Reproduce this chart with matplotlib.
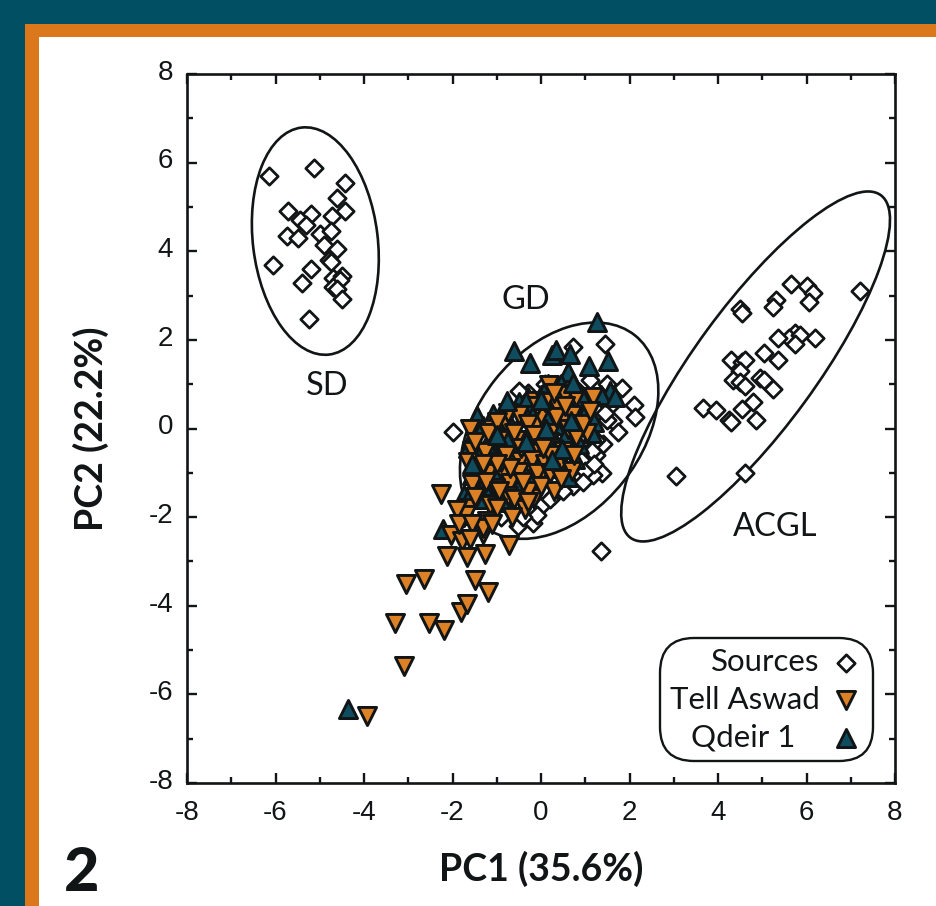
import matplotlib
matplotlib.use("Agg")
import matplotlib.pyplot as plt
from matplotlib.patches import Ellipse, Rectangle
from matplotlib.ticker import MultipleLocator
from matplotlib.transforms import ScaledTranslation

plt.rcParams['font.family'] = ['Liberation Sans', 'DejaVu Sans']
plt.rcParams['axes.unicode_minus'] = False

# values, the middle of the GD cluster is a rough estimate
sd_x = [-6.15, -5.13, -4.42, -5.72, -4.62, -4.42, -4.72, -5.2, -5.45, -5.3, -5.75, -5.5, -5.0, -4.75,
        -4.9, -4.6, -4.8, -6.05, -5.2, -4.75, -4.7, -4.5, -4.55, -5.4, -4.7, -4.6, -4.5, -5.25]
sd_y = [5.7, 5.87, 5.53, 4.9, 5.2, 4.9, 4.8, 4.85, 4.7, 4.6, 4.35, 4.3, 4.4, 4.45,
        4.15, 4.05, 3.8, 3.7, 3.6, 3.75, 3.4, 3.45, 3.35, 3.28, 3.2, 3.15, 2.93, 2.47]

acgl_x = [7.2, 5.65, 6.0, 6.15, 6.05, 5.3, 5.25, 4.5, 4.55, 5.75, 5.6, 5.85, 5.75, 5.35, 6.2, 5.05, 5.35, 4.3,
          4.55, 4.6, 4.5, 4.35, 4.5, 4.6, 4.95, 5.05, 5.25, 3.65, 3.95, 4.8, 4.55, 4.25, 4.3, 4.85, 3.05, 4.6]
acgl_y = [3.1, 3.25, 3.22, 3.05, 2.85, 2.9, 2.75, 2.7, 2.6, 2.15, 2.05, 2.1, 1.9, 2.05, 2.05, 1.7, 1.55, 1.55,
          1.5, 1.55, 1.3, 1.1, 1.05, 0.95, 1.15, 1.1, 0.9, 0.47, 0.42, 0.6, 0.45, 0.2, 0.15, 0.2, -1.07, -1.0]

gd_x = [1.45, 0.72, 1.83, 2.1, 2.13, 1.63, 1.74, 1.4, 1.38, 1.18, 0.73, 0.0, -0.18, -0.52, -1.98, 1.35,
        1.5, 1.1, 1.3, 0.9, 0.6, 0.3, -0.1, -0.5, -0.3, 0.8, 1.1, 0.5, 0.9, 0.2, -0.2, -0.9, 1.25, 1.0, 0.55,
        0.1, -0.5, 1.4, 1.55, 1.5, 1.25, 1.15, 1.2, 0.95, 0.5, 0.2, -0.1, -0.4, 1.45]
gd_y = [1.9, 1.83, 0.92, 0.54, 0.25, 0.18, -0.08, -0.34, -1.0, -1.06, -1.29, -1.74, -2.13, -2.19, -0.07, -2.77,
        1.0, 1.1, 0.4, -0.3, -1.0, -1.5, -1.3, -1.7, 0.8, 0.9, 0.1, 0.6, -0.7, -0.4, 0.2, -2.0, -0.6, -0.95, -1.15,
        1.0, 0.85, 0.65, 0.5, 0.2, -0.25, -0.5, -0.8, -1.2, -1.4, -1.6, -1.95, -2.0, 0.35]

qdeir_back_x = [1.26, -0.6, -0.25, 0.24, 0.35, 0.66, 1.52, 1.09, 0.62, 1.56, 0.96, -1.45, -1.08, 0.17, -0.25,
                0.32, -1.19, -0.85, 0.77, -1.57, -0.25, -1.75, -1.15, -2.22, -4.36, 0.0, 0.5, -0.5, 0.9, 0.3,
                -0.6, -1.0, -1.3, 0.1, 0.6, -0.1, -0.9, -1.4,
                -1.55, -1.3, -1.1, -0.75, -0.4, -0.15, 0.1, 0.35, 0.75, 1.0, 1.2, 0.85, 0.55, 0.3, 0.05, -0.3, -0.6,
                -1.0, -0.65, -0.45, 0.0, 0.35, -1.65, -1.55, -1.3, -0.85, -0.5, -1.65, 0.15, 0.45, 1.35, -0.3, -0.75,
                0.6, 1.15]
qdeir_back_y = [2.4, 1.76, 1.47, 1.65, 1.78, 1.69, 1.52, 1.4, 1.27, 0.84, 0.67, 0.29, 0.33, 0.44, 0.48,
                0.09, -0.31, -0.5, -0.68, -1.06, -1.16, -1.51, -1.44, -2.27, -6.34, 0.75, 0.55, 0.6, 0.2, -0.6,
                -0.1, 0.1, -1.3, -0.5, -1.1, -0.9, -0.9, -0.6,
                -0.2, 0.05, -0.6, -0.2, 0.25, 0.35, 0.3, 0.6, 0.45, 0.35, 0.15, -0.35, -0.2, -0.25, -0.15, -0.35, -0.55,
                -1.0, -1.15, -0.85, -0.75, -0.9, -0.45, -1.4, -1.6, -1.65, -1.3, -1.95, 1.0, 1.0, 0.75, 0.7, 0.2,
                0.8, -0.1]

aswad_x = [0.17, 0.54, -0.135, 1.18, 0.38, -0.81, -0.135, -1.6, 1.03, -0.96, -0.56, 0.17, -0.11, -1.57, -1.27, -0.47,
           0.43, 0.69, -1.19, -0.85, -0.49, -0.04, -0.7, 0.3, -1.45, -0.74, -0.16, -1.15, -0.36, -1.75, -0.66, -1.21,
           -1.3, -0.72, -2.26, -2.03, -1.79, -2.13, -1.68, -1.27, -3.3, -3.05, -2.65, -3.1, -2.53, -2.2, -1.8, -1.67,
           -1.5, -1.2, -3.93, -1.65, -1.7, -1.3, -0.9, -0.2, 0.0, 0.5, -0.5, 0.2, -0.3, 0.1, 0.7, -1.1, -1.4, -1.05,
           -1.5, -1.2, -0.8, -0.6, -0.3, -0.1, 0.1, 0.3, 0.6, 0.8, 0.5, 0.2, -0.1, -0.4, -0.7, -1.0, -1.3, -1.55,
           -1.25, -0.95, -0.6, -0.3, 0.0, 0.2, 0.45, 0.75, 0.95, 1.1, 0.8, 0.35, -0.15, -0.75, -1.0, -1.65, -1.5,
           -1.9, -1.85, -1.55, -1.0, -1.1, -1.6, -0.45, 0.05, 0.55]
aswad_y = [0.99, 0.745, 0.62, 0.71, 0.47, 0.14, 0.05, 0.0, -0.1, -0.27, -0.26, -0.31, -0.38, -0.5, -0.53, -0.74,
           -0.78, -0.95, -1.01, -1.02, -0.99, -1.11, -1.23, -1.41, -1.53, -1.53, -1.56, -1.72, -1.81, -2.0, -1.99, -2.08,
           -2.38, -2.62, -1.47, -2.41, -2.54, -2.87, -2.9, -2.83, -4.4, -3.52, -3.4, -5.37, -4.38, -4.55, -4.13, -3.97,
           -3.43, -3.7, -6.48, -1.8, -1.95, -2.25, -0.75, -0.7, 0.3, 0.2, 0.3, -0.1, -1.4, -0.8, 0.3, 0.0, -1.0, -1.35,
           -0.3, -0.1, -0.6, -0.1, 0.1, 0.5, 0.6, 0.8, 0.0, -0.2, -0.5, -0.6, -1.0, -1.2, -0.9, -0.8, -0.8, -1.25,
           -1.2, -1.4, -1.6, -1.65, -1.3, -1.0, -1.15, -0.6, 0.1, 0.4, 0.7, 0.25, -0.15, 0.35, 0.15, -0.75, -1.55,
           -1.85, -2.15, -2.15, -1.8, -2.15, -2.5, -0.45, -0.45, 0.5]

qdeir_front_x = [0.67, 0.47, 0.11, -0.76, 0.73, -1.57, 1.67, -0.35, 0.25, -1.0, 0.0]
qdeir_front_y = [0.18, -0.46, 0.0, 0.63, 1.02, -0.81, 0.71, -0.3, -0.7, -0.15, 0.65]

# centre x, centre y, full width, full height, angle
ellipse_sd = (-5.1, 4.23, 2.82, 5.16, 7)
ellipse_gd = (0.41, -0.05, 3.7, 5.5, -38.5)
ellipse_acgl = (4.85, 1.4, 2.74, 9.58, -36.2)

teal = '#004f62'
orange = '#db781c'
tri_teal = '#0f4c5f'
tri_orange = '#dd8126'
ink = '#111516'

fig = plt.figure(figsize=(9.36, 9.06), dpi=100, facecolor=teal)
W, H = 936, 906
fig.add_artist(Rectangle((25 / W, 0), 1, 1 - 24 / H, transform=fig.transFigure, color=orange, lw=0, zorder=-2))
fig.add_artist(Rectangle((39 / W, 0), 1, 1 - 37 / H, transform=fig.transFigure, color='white', lw=0, zorder=-1))

ax = fig.add_axes([187 / W, 1 - 783 / H, 708 / W, 709 / H])
ax.set_xlim(-8, 8)
ax.set_ylim(-8, 8)
ax.patch.set_alpha(0)

for c in (ellipse_sd, ellipse_gd, ellipse_acgl):
    ax.add_patch(Ellipse((c[0], c[1]), c[2], c[3], angle=c[4], fill=False, ec=ink, lw=1.9, zorder=2))

diamond = dict(marker='D', s=78, c='white', edgecolors=ink, linewidths=2.0)
tri_up = dict(marker='^', s=170, c=tri_teal, edgecolors=ink, linewidths=2.1)
tri_down = dict(marker='v', s=170, c=tri_orange, edgecolors=ink, linewidths=2.1)

ax.scatter(sd_x + acgl_x + gd_x, sd_y + acgl_y + gd_y, zorder=3, label='Sources', **diamond)
ax.scatter(aswad_x, aswad_y, zorder=5, label='Tell Aswad', **tri_down)
ax.scatter(qdeir_back_x, qdeir_back_y, zorder=4, label='Qdeir 1   ', **tri_up)
ax.scatter(qdeir_front_x, qdeir_front_y, zorder=6, **tri_up)

ax.xaxis.set_major_locator(MultipleLocator(2))
ax.yaxis.set_major_locator(MultipleLocator(2))
ax.xaxis.set_minor_locator(MultipleLocator(1))
ax.yaxis.set_minor_locator(MultipleLocator(1))
ax.tick_params(which='major', direction='in', top=True, right=True, length=7.5, width=1.7, color=ink,
               labelsize=20, labelcolor=ink)
ax.tick_params(axis='x', which='major', pad=12)
ax.tick_params(axis='y', which='major', pad=10)
ax.tick_params(which='minor', direction='in', top=True, right=True, length=4.5, width=1.7, color=ink)
for s in ax.spines.values():
    s.set_linewidth(1.9)
    s.set_color(ink)

# y tick labels sit a little above their ticks
nudge = ScaledTranslation(0, 3 / 72, fig.dpi_scale_trans)
for lab in ax.get_yticklabels():
    lab.set_transform(lab.get_transform() + nudge)

ax.text(-4.83, 0.95, 'SD', fontsize=23.5, family='Lato', color=ink, ha='center', va='center')
ax.text(-0.35, 2.9, 'GD', fontsize=23.5, family='Lato', color=ink, ha='center', va='center')
ax.text(5.29, -2.23, 'ACGL', fontsize=23.5, family='Lato', color=ink, ha='center', va='center')

ax.set_xlabel('PC1 (35.6%)', fontsize=27, family='Lato', weight='bold', color=ink, labelpad=18)
ax.set_ylabel('PC2 (22.2%)', fontsize=27, family='Lato', weight='bold', color=ink, labelpad=28)

leg = ax.legend(loc='lower right', bbox_to_anchor=(0.9695, 0.031), markerfirst=False, frameon=True, framealpha=1,
                prop={'family': 'Lato', 'size': 22.5}, labelcolor=ink, handletextpad=0.3, borderpad=0.32,
                labelspacing=0.3, borderaxespad=0, handlelength=1.1)
frame = leg.get_frame()
frame.set_boxstyle('round', pad=0, rounding_size=1.1)
frame.set_edgecolor(ink)
frame.set_linewidth(1.7)
leg.set_zorder(10)

fig.text(82 / W, 1 - 873 / H, '2', fontsize=44, family='Lato', weight='black', color=ink, ha='center', va='center')

fig.savefig('out.png', dpi=100, facecolor=fig.get_facecolor())
